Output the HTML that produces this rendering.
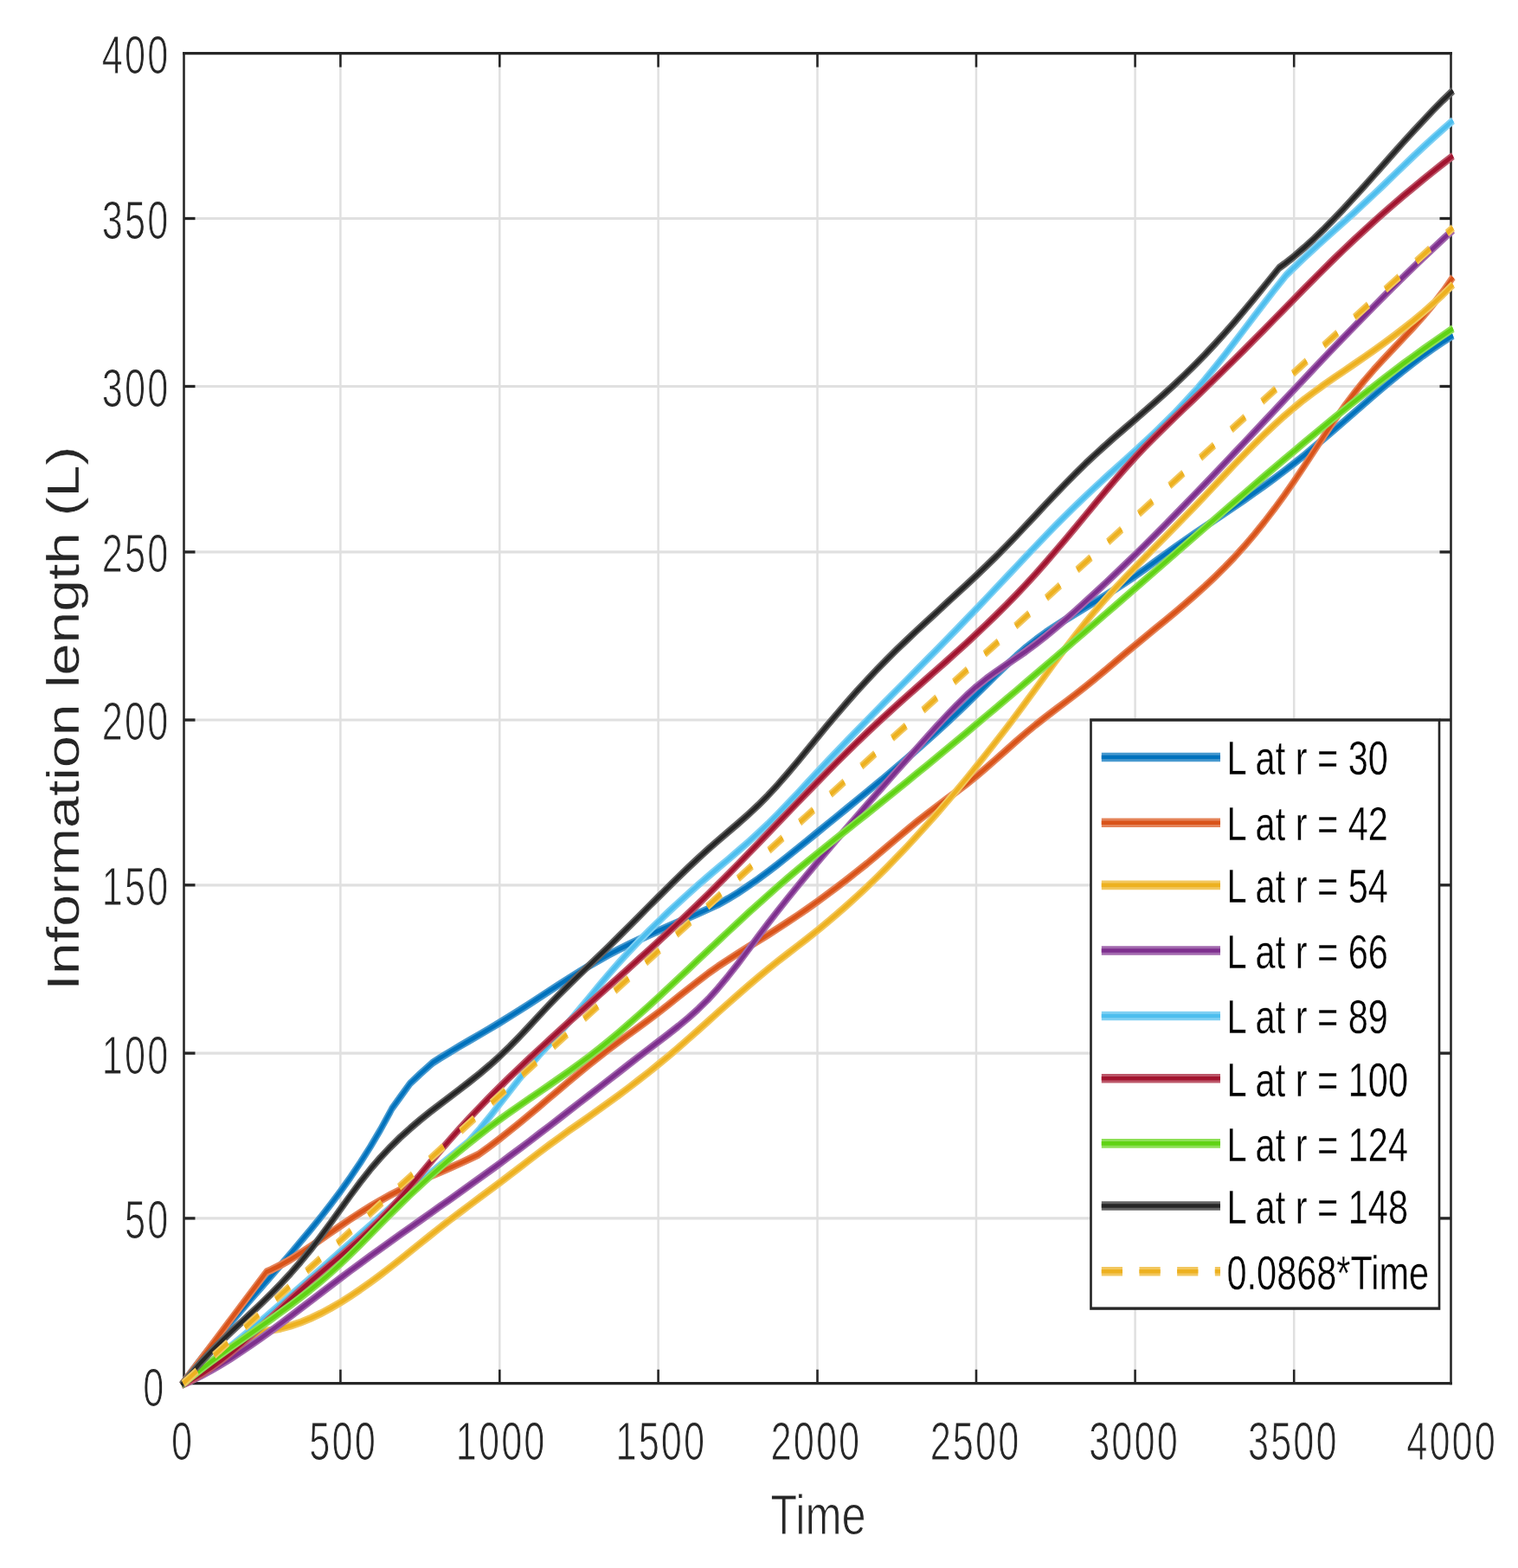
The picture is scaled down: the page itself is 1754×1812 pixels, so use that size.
<!DOCTYPE html>
<html lang="en"><head><meta charset="utf-8"><title>Information length vs Time</title>
<style>html,body{margin:0;padding:0;background:#fff}svg{display:block}text{font-family:"Liberation Sans",sans-serif}</style></head><body>
<svg width="1754" height="1812" viewBox="0 0 1754 1812">
<rect width="1754" height="1812" fill="#fff"/>
<g><g transform="scale(0.78,1)">
<g stroke="#e0e0e0" stroke-width="3.2" fill="none">
<line x1="504.36" y1="61.6" x2="504.36" y2="1598.7"/>
<line x1="740.13" y1="61.6" x2="740.13" y2="1598.7"/>
<line x1="975.13" y1="61.6" x2="975.13" y2="1598.7"/>
<line x1="1210.90" y1="61.6" x2="1210.90" y2="1598.7"/>
<line x1="1446.15" y1="61.6" x2="1446.15" y2="1598.7"/>
<line x1="1681.54" y1="61.6" x2="1681.54" y2="1598.7"/>
<line x1="1916.92" y1="61.6" x2="1916.92" y2="1598.7"/>
<line x1="272.44" y1="1407.9" x2="2149.36" y2="1407.9"/>
<line x1="272.44" y1="1217.1" x2="2149.36" y2="1217.1"/>
<line x1="272.44" y1="1022.8" x2="2149.36" y2="1022.8"/>
<line x1="272.44" y1="832.0" x2="2149.36" y2="832.0"/>
<line x1="272.44" y1="637.9" x2="2149.36" y2="637.9"/>
<line x1="272.44" y1="446.5" x2="2149.36" y2="446.5"/>
<line x1="272.44" y1="252.5" x2="2149.36" y2="252.5"/>
</g>
<g stroke="#262626" stroke-width="3.33" fill="none" stroke-linecap="square">
<line x1="272.44" y1="61.6" x2="272.44" y2="1598.7"/>
<line x1="2149.36" y1="61.6" x2="2149.36" y2="1598.7"/>
</g>
<g stroke="#262626" stroke-width="3.3" fill="none">
<line x1="270.77" y1="61.6" x2="2151.03" y2="61.6"/>
<line x1="270.77" y1="1598.7" x2="2151.03" y2="1598.7"/>
<line x1="504.36" y1="61.6" x2="504.36" y2="77.6"/>
<line x1="504.36" y1="1598.7" x2="504.36" y2="1582.7"/>
<line x1="740.13" y1="61.6" x2="740.13" y2="77.6"/>
<line x1="740.13" y1="1598.7" x2="740.13" y2="1582.7"/>
<line x1="975.13" y1="61.6" x2="975.13" y2="77.6"/>
<line x1="975.13" y1="1598.7" x2="975.13" y2="1582.7"/>
<line x1="1210.90" y1="61.6" x2="1210.90" y2="77.6"/>
<line x1="1210.90" y1="1598.7" x2="1210.90" y2="1582.7"/>
<line x1="1446.15" y1="61.6" x2="1446.15" y2="77.6"/>
<line x1="1446.15" y1="1598.7" x2="1446.15" y2="1582.7"/>
<line x1="1681.54" y1="61.6" x2="1681.54" y2="77.6"/>
<line x1="1681.54" y1="1598.7" x2="1681.54" y2="1582.7"/>
<line x1="1916.92" y1="61.6" x2="1916.92" y2="77.6"/>
<line x1="1916.92" y1="1598.7" x2="1916.92" y2="1582.7"/>
<line x1="272.44" y1="1407.9" x2="289.10" y2="1407.9"/>
<line x1="2149.36" y1="1407.9" x2="2132.69" y2="1407.9"/>
<line x1="272.44" y1="1217.1" x2="289.10" y2="1217.1"/>
<line x1="2149.36" y1="1217.1" x2="2132.69" y2="1217.1"/>
<line x1="272.44" y1="1022.8" x2="289.10" y2="1022.8"/>
<line x1="2149.36" y1="1022.8" x2="2132.69" y2="1022.8"/>
<line x1="272.44" y1="832.0" x2="289.10" y2="832.0"/>
<line x1="2149.36" y1="832.0" x2="2132.69" y2="832.0"/>
<line x1="272.44" y1="637.9" x2="289.10" y2="637.9"/>
<line x1="2149.36" y1="637.9" x2="2132.69" y2="637.9"/>
<line x1="272.44" y1="446.5" x2="289.10" y2="446.5"/>
<line x1="2149.36" y1="446.5" x2="2132.69" y2="446.5"/>
<line x1="272.44" y1="252.5" x2="289.10" y2="252.5"/>
<line x1="2149.36" y1="252.5" x2="2132.69" y2="252.5"/>
</g>
<g fill="none" stroke-linejoin="round">
<path d="M269.0,1600.5 L283.7,1585.0 L298.4,1570.1 L313.1,1555.6 L327.8,1541.6 L342.5,1527.9 L357.3,1514.4 L372.0,1501.2 L386.7,1488.0 L401.4,1474.8 L416.1,1461.6 L430.8,1448.3 L445.5,1434.7 L460.3,1420.9 L475.0,1406.7 L489.7,1392.0 L504.4,1376.7 L519.1,1360.6 L533.8,1343.5 L548.5,1325.4 L563.3,1305.9 L578.0,1285.0 L580.8,1280.8 L592.7,1268.0 L607.4,1252.1 L622.1,1241.2 L636.8,1231.0 L641.0,1228.1 L651.5,1222.8 L666.3,1215.8 L681.0,1208.9 L695.7,1202.2 L710.4,1195.6 L725.1,1188.9 L739.8,1182.0 L754.5,1174.9 L769.3,1167.7 L784.0,1160.3 L798.7,1152.8 L813.4,1145.3 L828.1,1137.9 L842.8,1130.5 L857.5,1123.4 L872.3,1116.4 L887.0,1109.7 L901.7,1103.3 L916.4,1097.3 L931.1,1091.6 L945.8,1086.1 L960.5,1080.8 L975.3,1075.7 L990.0,1070.7 L1004.7,1065.7 L1019.4,1060.7 L1034.1,1055.7 L1048.8,1050.5 L1063.5,1045.2 L1064.7,1044.8 L1078.3,1038.8 L1093.0,1031.8 L1107.7,1024.2 L1122.4,1016.2 L1137.1,1007.7 L1151.8,999.0 L1166.5,989.9 L1181.3,980.7 L1196.0,971.4 L1210.7,962.0 L1225.4,952.6 L1240.1,943.3 L1254.8,934.0 L1269.5,924.6 L1284.3,915.2 L1299.0,905.7 L1313.7,896.1 L1328.4,886.4 L1343.1,876.6 L1357.8,866.6 L1372.6,856.5 L1387.3,846.2 L1402.0,835.7 L1416.7,825.0 L1431.4,814.0 L1446.1,802.9 L1460.8,791.5 L1475.6,780.2 L1490.3,769.0 L1505.0,758.4 L1519.7,748.4 L1534.4,739.3 L1549.1,730.9 L1563.8,723.3 L1578.6,716.0 L1593.3,709.0 L1608.0,702.1 L1622.7,695.2 L1637.4,688.2 L1652.1,680.9 L1666.8,673.4 L1681.6,665.6 L1696.3,657.4 L1711.0,649.1 L1725.7,640.7 L1740.4,632.5 L1755.1,624.5 L1769.8,616.6 L1784.6,608.8 L1799.3,601.0 L1814.0,593.2 L1828.7,585.5 L1843.4,577.6 L1858.1,569.5 L1872.8,561.4 L1887.6,553.0 L1902.3,544.4 L1917.0,535.5 L1931.7,526.3 L1946.4,516.7 L1961.1,507.0 L1975.8,497.2 L1990.6,487.2 L2005.3,477.2 L2020.0,467.2 L2034.7,457.3 L2049.4,447.5 L2064.1,437.9 L2078.8,428.6 L2093.6,419.6 L2108.3,410.9 L2123.0,402.7 L2137.7,394.9 L2152.4,387.7" stroke="#4799cf" stroke-width="9.2"/>
<path d="M269.0,1600.5 L283.7,1585.0 L298.4,1570.1 L313.1,1555.6 L327.8,1541.6 L342.5,1527.9 L357.3,1514.4 L372.0,1501.2 L386.7,1488.0 L401.4,1474.8 L416.1,1461.6 L430.8,1448.3 L445.5,1434.7 L460.3,1420.9 L475.0,1406.7 L489.7,1392.0 L504.4,1376.7 L519.1,1360.6 L533.8,1343.5 L548.5,1325.4 L563.3,1305.9 L578.0,1285.0 L580.8,1280.8 L592.7,1268.0 L607.4,1252.1 L622.1,1241.2 L636.8,1231.0 L641.0,1228.1 L651.5,1222.8 L666.3,1215.8 L681.0,1208.9 L695.7,1202.2 L710.4,1195.6 L725.1,1188.9 L739.8,1182.0 L754.5,1174.9 L769.3,1167.7 L784.0,1160.3 L798.7,1152.8 L813.4,1145.3 L828.1,1137.9 L842.8,1130.5 L857.5,1123.4 L872.3,1116.4 L887.0,1109.7 L901.7,1103.3 L916.4,1097.3 L931.1,1091.6 L945.8,1086.1 L960.5,1080.8 L975.3,1075.7 L990.0,1070.7 L1004.7,1065.7 L1019.4,1060.7 L1034.1,1055.7 L1048.8,1050.5 L1063.5,1045.2 L1064.7,1044.8 L1078.3,1038.8 L1093.0,1031.8 L1107.7,1024.2 L1122.4,1016.2 L1137.1,1007.7 L1151.8,999.0 L1166.5,989.9 L1181.3,980.7 L1196.0,971.4 L1210.7,962.0 L1225.4,952.6 L1240.1,943.3 L1254.8,934.0 L1269.5,924.6 L1284.3,915.2 L1299.0,905.7 L1313.7,896.1 L1328.4,886.4 L1343.1,876.6 L1357.8,866.6 L1372.6,856.5 L1387.3,846.2 L1402.0,835.7 L1416.7,825.0 L1431.4,814.0 L1446.1,802.9 L1460.8,791.5 L1475.6,780.2 L1490.3,769.0 L1505.0,758.4 L1519.7,748.4 L1534.4,739.3 L1549.1,730.9 L1563.8,723.3 L1578.6,716.0 L1593.3,709.0 L1608.0,702.1 L1622.7,695.2 L1637.4,688.2 L1652.1,680.9 L1666.8,673.4 L1681.6,665.6 L1696.3,657.4 L1711.0,649.1 L1725.7,640.7 L1740.4,632.5 L1755.1,624.5 L1769.8,616.6 L1784.6,608.8 L1799.3,601.0 L1814.0,593.2 L1828.7,585.5 L1843.4,577.6 L1858.1,569.5 L1872.8,561.4 L1887.6,553.0 L1902.3,544.4 L1917.0,535.5 L1931.7,526.3 L1946.4,516.7 L1961.1,507.0 L1975.8,497.2 L1990.6,487.2 L2005.3,477.2 L2020.0,467.2 L2034.7,457.3 L2049.4,447.5 L2064.1,437.9 L2078.8,428.6 L2093.6,419.6 L2108.3,410.9 L2123.0,402.7 L2137.7,394.9 L2152.4,387.7" stroke="#0072bd" stroke-width="5.0"/>
</g>
<g fill="none" stroke-linejoin="round">
<path d="M269.0,1600.5 L283.7,1585.2 L298.4,1569.9 L313.1,1554.7 L327.8,1539.4 L342.5,1524.1 L357.3,1508.8 L372.0,1493.5 L386.7,1478.3 L394.7,1469.9 L401.4,1467.6 L416.1,1461.8 L430.8,1455.2 L445.5,1448.0 L460.3,1440.4 L475.0,1432.5 L489.7,1424.5 L504.4,1416.6 L519.1,1408.8 L533.8,1401.3 L548.5,1394.2 L563.3,1387.4 L578.0,1381.1 L592.7,1375.2 L607.4,1369.7 L622.1,1364.5 L636.8,1359.5 L651.5,1354.6 L666.3,1349.6 L681.0,1344.5 L695.7,1339.2 L708.3,1334.4 L710.4,1333.2 L725.1,1324.9 L739.8,1316.2 L754.5,1307.2 L769.3,1297.9 L784.0,1288.4 L798.7,1278.8 L813.4,1269.0 L828.1,1259.3 L842.8,1249.6 L857.5,1240.1 L872.3,1230.6 L887.0,1221.5 L901.7,1212.6 L916.4,1204.0 L931.1,1195.6 L945.8,1187.3 L960.5,1178.8 L975.3,1170.1 L990.0,1161.1 L1004.7,1151.9 L1019.4,1142.8 L1034.1,1133.8 L1048.8,1125.1 L1063.5,1116.9 L1078.3,1109.3 L1093.0,1101.9 L1107.7,1094.7 L1122.4,1087.7 L1137.1,1080.5 L1151.8,1073.2 L1166.5,1065.7 L1181.3,1058.0 L1196.0,1050.1 L1210.7,1041.9 L1225.4,1033.6 L1240.1,1025.0 L1254.8,1016.3 L1269.5,1007.2 L1284.3,998.0 L1299.0,988.4 L1313.7,978.7 L1328.4,969.0 L1343.1,959.3 L1357.8,949.9 L1372.6,940.8 L1387.3,932.1 L1402.0,923.6 L1416.7,915.0 L1431.4,906.3 L1446.1,897.1 L1460.8,887.4 L1475.6,877.3 L1490.3,867.1 L1505.0,856.9 L1519.7,847.0 L1534.4,837.5 L1549.1,828.5 L1563.8,819.8 L1578.6,811.1 L1593.3,802.4 L1608.0,793.4 L1622.7,784.1 L1637.4,774.6 L1652.1,764.9 L1666.8,755.2 L1681.6,745.6 L1696.3,736.1 L1711.0,726.7 L1725.7,717.3 L1740.4,707.8 L1755.1,698.1 L1769.8,688.1 L1784.6,677.8 L1799.3,667.0 L1814.0,655.7 L1828.7,643.8 L1843.4,631.1 L1858.1,617.6 L1872.8,603.4 L1887.6,588.3 L1902.3,572.6 L1917.0,556.1 L1931.7,539.0 L1946.4,521.5 L1961.1,504.0 L1975.8,486.9 L1990.6,470.5 L2005.3,455.1 L2020.0,440.9 L2034.7,427.6 L2049.4,415.1 L2064.1,402.9 L2078.8,390.8 L2093.6,378.4 L2108.3,365.6 L2123.0,351.8 L2137.7,336.8 L2152.4,320.3" stroke="#e48359" stroke-width="9.2"/>
<path d="M269.0,1600.5 L283.7,1585.2 L298.4,1569.9 L313.1,1554.7 L327.8,1539.4 L342.5,1524.1 L357.3,1508.8 L372.0,1493.5 L386.7,1478.3 L394.7,1469.9 L401.4,1467.6 L416.1,1461.8 L430.8,1455.2 L445.5,1448.0 L460.3,1440.4 L475.0,1432.5 L489.7,1424.5 L504.4,1416.6 L519.1,1408.8 L533.8,1401.3 L548.5,1394.2 L563.3,1387.4 L578.0,1381.1 L592.7,1375.2 L607.4,1369.7 L622.1,1364.5 L636.8,1359.5 L651.5,1354.6 L666.3,1349.6 L681.0,1344.5 L695.7,1339.2 L708.3,1334.4 L710.4,1333.2 L725.1,1324.9 L739.8,1316.2 L754.5,1307.2 L769.3,1297.9 L784.0,1288.4 L798.7,1278.8 L813.4,1269.0 L828.1,1259.3 L842.8,1249.6 L857.5,1240.1 L872.3,1230.6 L887.0,1221.5 L901.7,1212.6 L916.4,1204.0 L931.1,1195.6 L945.8,1187.3 L960.5,1178.8 L975.3,1170.1 L990.0,1161.1 L1004.7,1151.9 L1019.4,1142.8 L1034.1,1133.8 L1048.8,1125.1 L1063.5,1116.9 L1078.3,1109.3 L1093.0,1101.9 L1107.7,1094.7 L1122.4,1087.7 L1137.1,1080.5 L1151.8,1073.2 L1166.5,1065.7 L1181.3,1058.0 L1196.0,1050.1 L1210.7,1041.9 L1225.4,1033.6 L1240.1,1025.0 L1254.8,1016.3 L1269.5,1007.2 L1284.3,998.0 L1299.0,988.4 L1313.7,978.7 L1328.4,969.0 L1343.1,959.3 L1357.8,949.9 L1372.6,940.8 L1387.3,932.1 L1402.0,923.6 L1416.7,915.0 L1431.4,906.3 L1446.1,897.1 L1460.8,887.4 L1475.6,877.3 L1490.3,867.1 L1505.0,856.9 L1519.7,847.0 L1534.4,837.5 L1549.1,828.5 L1563.8,819.8 L1578.6,811.1 L1593.3,802.4 L1608.0,793.4 L1622.7,784.1 L1637.4,774.6 L1652.1,764.9 L1666.8,755.2 L1681.6,745.6 L1696.3,736.1 L1711.0,726.7 L1725.7,717.3 L1740.4,707.8 L1755.1,698.1 L1769.8,688.1 L1784.6,677.8 L1799.3,667.0 L1814.0,655.7 L1828.7,643.8 L1843.4,631.1 L1858.1,617.6 L1872.8,603.4 L1887.6,588.3 L1902.3,572.6 L1917.0,556.1 L1931.7,539.0 L1946.4,521.5 L1961.1,504.0 L1975.8,486.9 L1990.6,470.5 L2005.3,455.1 L2020.0,440.9 L2034.7,427.6 L2049.4,415.1 L2064.1,402.9 L2078.8,390.8 L2093.6,378.4 L2108.3,365.6 L2123.0,351.8 L2137.7,336.8 L2152.4,320.3" stroke="#d95319" stroke-width="5.0"/>
</g>
<g fill="none" stroke-linejoin="round">
<path d="M269.0,1600.5 L283.7,1592.8 L298.4,1585.0 L313.1,1577.2 L327.8,1569.5 L342.5,1561.8 L357.3,1554.0 L372.0,1546.2 L386.7,1538.5 L401.4,1537.3 L416.1,1535.1 L430.8,1532.0 L445.5,1528.1 L460.3,1523.4 L475.0,1517.9 L489.7,1511.8 L504.4,1505.1 L519.1,1497.8 L533.8,1490.1 L548.5,1481.9 L563.3,1473.4 L578.0,1464.6 L592.7,1455.6 L607.4,1446.4 L622.1,1437.2 L636.8,1428.0 L651.5,1418.8 L666.3,1409.9 L681.0,1401.2 L695.7,1392.6 L710.4,1384.1 L725.1,1375.6 L739.8,1367.0 L754.5,1358.3 L769.3,1349.5 L784.0,1340.6 L798.7,1331.9 L813.4,1323.3 L828.1,1314.9 L842.8,1306.6 L857.5,1298.6 L872.3,1290.5 L887.0,1282.3 L901.7,1274.1 L916.4,1265.7 L931.1,1257.1 L945.8,1248.3 L960.5,1239.3 L975.3,1230.0 L990.0,1220.6 L1004.7,1210.8 L1019.4,1200.8 L1034.1,1190.6 L1048.8,1180.4 L1063.5,1170.1 L1078.3,1159.8 L1093.0,1149.6 L1107.7,1139.6 L1122.4,1129.8 L1137.1,1120.4 L1151.8,1111.2 L1166.5,1102.3 L1181.3,1093.4 L1196.0,1084.5 L1210.7,1075.4 L1225.4,1065.9 L1240.1,1056.2 L1254.8,1046.1 L1269.5,1035.7 L1284.3,1025.0 L1299.0,1013.9 L1313.7,1002.5 L1328.4,990.7 L1343.1,978.7 L1357.8,966.3 L1372.6,953.6 L1387.3,940.7 L1402.0,927.4 L1416.7,913.8 L1431.4,900.0 L1446.1,885.9 L1460.8,871.4 L1475.6,856.8 L1490.3,841.9 L1505.0,826.7 L1519.7,811.3 L1534.4,795.6 L1549.1,779.9 L1563.8,764.2 L1578.6,748.7 L1593.3,733.7 L1608.0,719.3 L1622.7,705.5 L1637.4,692.4 L1652.1,679.7 L1666.8,667.5 L1681.6,655.5 L1696.3,643.8 L1711.0,632.2 L1725.7,620.6 L1740.4,608.9 L1755.1,597.2 L1769.8,585.3 L1784.6,573.2 L1799.3,561.0 L1814.0,548.9 L1828.7,536.8 L1843.4,525.0 L1858.1,513.4 L1872.8,502.1 L1887.6,491.2 L1902.3,480.8 L1917.0,471.0 L1931.7,461.7 L1946.4,453.1 L1961.1,444.8 L1975.8,436.8 L1990.6,429.0 L2005.3,421.1 L2020.0,413.3 L2034.7,405.2 L2049.4,397.0 L2064.1,388.6 L2078.8,379.8 L2093.6,370.6 L2108.3,361.0 L2123.0,350.9 L2137.7,340.2 L2152.4,328.8" stroke="#f2c75e" stroke-width="9.2"/>
<path d="M269.0,1600.5 L283.7,1592.8 L298.4,1585.0 L313.1,1577.2 L327.8,1569.5 L342.5,1561.8 L357.3,1554.0 L372.0,1546.2 L386.7,1538.5 L401.4,1537.3 L416.1,1535.1 L430.8,1532.0 L445.5,1528.1 L460.3,1523.4 L475.0,1517.9 L489.7,1511.8 L504.4,1505.1 L519.1,1497.8 L533.8,1490.1 L548.5,1481.9 L563.3,1473.4 L578.0,1464.6 L592.7,1455.6 L607.4,1446.4 L622.1,1437.2 L636.8,1428.0 L651.5,1418.8 L666.3,1409.9 L681.0,1401.2 L695.7,1392.6 L710.4,1384.1 L725.1,1375.6 L739.8,1367.0 L754.5,1358.3 L769.3,1349.5 L784.0,1340.6 L798.7,1331.9 L813.4,1323.3 L828.1,1314.9 L842.8,1306.6 L857.5,1298.6 L872.3,1290.5 L887.0,1282.3 L901.7,1274.1 L916.4,1265.7 L931.1,1257.1 L945.8,1248.3 L960.5,1239.3 L975.3,1230.0 L990.0,1220.6 L1004.7,1210.8 L1019.4,1200.8 L1034.1,1190.6 L1048.8,1180.4 L1063.5,1170.1 L1078.3,1159.8 L1093.0,1149.6 L1107.7,1139.6 L1122.4,1129.8 L1137.1,1120.4 L1151.8,1111.2 L1166.5,1102.3 L1181.3,1093.4 L1196.0,1084.5 L1210.7,1075.4 L1225.4,1065.9 L1240.1,1056.2 L1254.8,1046.1 L1269.5,1035.7 L1284.3,1025.0 L1299.0,1013.9 L1313.7,1002.5 L1328.4,990.7 L1343.1,978.7 L1357.8,966.3 L1372.6,953.6 L1387.3,940.7 L1402.0,927.4 L1416.7,913.8 L1431.4,900.0 L1446.1,885.9 L1460.8,871.4 L1475.6,856.8 L1490.3,841.9 L1505.0,826.7 L1519.7,811.3 L1534.4,795.6 L1549.1,779.9 L1563.8,764.2 L1578.6,748.7 L1593.3,733.7 L1608.0,719.3 L1622.7,705.5 L1637.4,692.4 L1652.1,679.7 L1666.8,667.5 L1681.6,655.5 L1696.3,643.8 L1711.0,632.2 L1725.7,620.6 L1740.4,608.9 L1755.1,597.2 L1769.8,585.3 L1784.6,573.2 L1799.3,561.0 L1814.0,548.9 L1828.7,536.8 L1843.4,525.0 L1858.1,513.4 L1872.8,502.1 L1887.6,491.2 L1902.3,480.8 L1917.0,471.0 L1931.7,461.7 L1946.4,453.1 L1961.1,444.8 L1975.8,436.8 L1990.6,429.0 L2005.3,421.1 L2020.0,413.3 L2034.7,405.2 L2049.4,397.0 L2064.1,388.6 L2078.8,379.8 L2093.6,370.6 L2108.3,361.0 L2123.0,350.9 L2137.7,340.2 L2152.4,328.8" stroke="#edb120" stroke-width="5.0"/>
</g>
<g fill="none" stroke-linejoin="round">
<path d="M269.0,1600.5 L283.7,1595.3 L298.4,1589.5 L313.1,1583.3 L327.8,1576.6 L342.5,1569.5 L357.3,1562.0 L372.0,1554.2 L386.7,1546.2 L401.4,1537.9 L416.1,1529.4 L430.8,1520.8 L445.5,1512.0 L460.3,1503.3 L475.0,1494.5 L489.7,1485.7 L504.4,1477.0 L519.1,1468.4 L533.8,1460.0 L548.5,1451.6 L563.3,1443.3 L578.0,1435.0 L592.7,1426.8 L607.4,1418.7 L622.1,1410.6 L636.8,1402.5 L651.5,1394.3 L666.3,1386.2 L681.0,1378.0 L695.7,1369.8 L710.4,1361.6 L725.1,1353.2 L739.8,1344.9 L754.5,1336.3 L769.3,1327.8 L784.0,1319.1 L798.7,1310.3 L813.4,1301.6 L828.1,1292.7 L842.8,1283.8 L857.5,1274.9 L872.3,1266.0 L887.0,1257.1 L901.7,1248.1 L916.4,1239.2 L931.1,1230.3 L945.8,1221.4 L960.5,1212.6 L975.3,1203.8 L990.0,1195.0 L1004.7,1186.0 L1019.4,1176.5 L1034.1,1166.2 L1048.8,1154.9 L1063.5,1142.2 L1078.3,1128.3 L1093.0,1113.7 L1107.7,1098.4 L1122.4,1083.0 L1137.1,1067.8 L1151.8,1053.0 L1166.5,1038.5 L1181.3,1024.3 L1196.0,1010.4 L1210.7,996.7 L1225.4,983.1 L1240.1,969.7 L1254.8,956.3 L1269.5,943.1 L1284.3,929.9 L1299.0,916.9 L1313.7,903.8 L1328.4,890.9 L1343.1,878.0 L1357.8,865.2 L1372.6,852.3 L1387.3,839.6 L1402.0,827.2 L1416.7,815.3 L1431.4,804.1 L1446.1,793.8 L1460.8,784.6 L1475.6,776.2 L1490.3,768.3 L1505.0,760.5 L1519.7,752.6 L1534.4,744.1 L1549.1,735.1 L1563.8,725.6 L1578.6,715.8 L1593.3,705.7 L1608.0,695.3 L1622.7,684.8 L1637.4,674.1 L1652.1,663.2 L1666.8,652.2 L1681.6,641.1 L1696.3,629.8 L1711.0,618.4 L1725.7,606.9 L1740.4,595.2 L1755.1,583.4 L1769.8,571.5 L1784.6,559.6 L1799.3,547.6 L1814.0,535.5 L1828.7,523.4 L1843.4,511.3 L1858.1,499.1 L1872.8,486.9 L1887.6,474.6 L1902.3,462.4 L1917.0,450.2 L1931.7,438.1 L1946.4,425.9 L1961.1,413.8 L1975.8,401.8 L1990.6,389.8 L2005.3,378.0 L2020.0,366.2 L2034.7,354.5 L2049.4,342.9 L2064.1,331.4 L2078.8,320.1 L2093.6,308.9 L2108.3,297.9 L2123.0,287.0 L2137.7,276.3 L2152.4,265.8" stroke="#a269ae" stroke-width="9.2"/>
<path d="M269.0,1600.5 L283.7,1595.3 L298.4,1589.5 L313.1,1583.3 L327.8,1576.6 L342.5,1569.5 L357.3,1562.0 L372.0,1554.2 L386.7,1546.2 L401.4,1537.9 L416.1,1529.4 L430.8,1520.8 L445.5,1512.0 L460.3,1503.3 L475.0,1494.5 L489.7,1485.7 L504.4,1477.0 L519.1,1468.4 L533.8,1460.0 L548.5,1451.6 L563.3,1443.3 L578.0,1435.0 L592.7,1426.8 L607.4,1418.7 L622.1,1410.6 L636.8,1402.5 L651.5,1394.3 L666.3,1386.2 L681.0,1378.0 L695.7,1369.8 L710.4,1361.6 L725.1,1353.2 L739.8,1344.9 L754.5,1336.3 L769.3,1327.8 L784.0,1319.1 L798.7,1310.3 L813.4,1301.6 L828.1,1292.7 L842.8,1283.8 L857.5,1274.9 L872.3,1266.0 L887.0,1257.1 L901.7,1248.1 L916.4,1239.2 L931.1,1230.3 L945.8,1221.4 L960.5,1212.6 L975.3,1203.8 L990.0,1195.0 L1004.7,1186.0 L1019.4,1176.5 L1034.1,1166.2 L1048.8,1154.9 L1063.5,1142.2 L1078.3,1128.3 L1093.0,1113.7 L1107.7,1098.4 L1122.4,1083.0 L1137.1,1067.8 L1151.8,1053.0 L1166.5,1038.5 L1181.3,1024.3 L1196.0,1010.4 L1210.7,996.7 L1225.4,983.1 L1240.1,969.7 L1254.8,956.3 L1269.5,943.1 L1284.3,929.9 L1299.0,916.9 L1313.7,903.8 L1328.4,890.9 L1343.1,878.0 L1357.8,865.2 L1372.6,852.3 L1387.3,839.6 L1402.0,827.2 L1416.7,815.3 L1431.4,804.1 L1446.1,793.8 L1460.8,784.6 L1475.6,776.2 L1490.3,768.3 L1505.0,760.5 L1519.7,752.6 L1534.4,744.1 L1549.1,735.1 L1563.8,725.6 L1578.6,715.8 L1593.3,705.7 L1608.0,695.3 L1622.7,684.8 L1637.4,674.1 L1652.1,663.2 L1666.8,652.2 L1681.6,641.1 L1696.3,629.8 L1711.0,618.4 L1725.7,606.9 L1740.4,595.2 L1755.1,583.4 L1769.8,571.5 L1784.6,559.6 L1799.3,547.6 L1814.0,535.5 L1828.7,523.4 L1843.4,511.3 L1858.1,499.1 L1872.8,486.9 L1887.6,474.6 L1902.3,462.4 L1917.0,450.2 L1931.7,438.1 L1946.4,425.9 L1961.1,413.8 L1975.8,401.8 L1990.6,389.8 L2005.3,378.0 L2020.0,366.2 L2034.7,354.5 L2049.4,342.9 L2064.1,331.4 L2078.8,320.1 L2093.6,308.9 L2108.3,297.9 L2123.0,287.0 L2137.7,276.3 L2152.4,265.8" stroke="#7e2f8e" stroke-width="5.0"/>
</g>
<g fill="none" stroke-linejoin="round">
<path d="M269.0,1600.5 L283.7,1591.8 L298.4,1582.9 L313.1,1573.8 L327.8,1564.6 L342.5,1555.3 L357.3,1545.8 L372.0,1536.2 L386.7,1526.5 L401.4,1516.7 L416.1,1506.8 L430.8,1496.9 L445.5,1486.8 L460.3,1476.8 L475.0,1466.7 L489.7,1456.5 L504.4,1446.4 L519.1,1436.2 L533.8,1426.1 L548.5,1416.0 L563.3,1405.9 L578.0,1395.9 L592.7,1385.9 L607.4,1376.0 L622.1,1366.2 L636.8,1356.4 L651.5,1346.8 L666.3,1337.3 L681.0,1327.9 L692.7,1320.5 L695.7,1318.0 L710.4,1304.9 L725.1,1290.9 L739.8,1276.3 L754.5,1261.5 L769.3,1246.8 L784.0,1232.6 L798.7,1219.3 L813.4,1206.9 L828.1,1194.3 L842.8,1181.0 L857.5,1167.2 L872.3,1153.3 L887.0,1139.4 L901.7,1125.9 L916.4,1112.8 L931.1,1100.2 L945.8,1088.1 L960.5,1076.4 L975.3,1065.1 L990.0,1054.0 L1004.7,1043.4 L1019.4,1033.0 L1034.1,1022.8 L1048.8,1012.9 L1063.5,1003.1 L1078.3,993.5 L1093.0,983.7 L1107.7,973.7 L1122.4,963.3 L1137.1,952.5 L1151.8,941.0 L1166.5,929.1 L1181.3,917.0 L1196.0,904.6 L1210.7,892.3 L1225.4,880.1 L1240.1,868.1 L1254.8,856.1 L1269.5,844.3 L1284.3,832.5 L1299.0,820.8 L1313.7,809.1 L1328.4,797.5 L1343.1,786.0 L1357.8,774.4 L1372.6,762.7 L1387.3,751.1 L1402.0,739.4 L1416.7,727.6 L1431.4,715.7 L1446.1,703.8 L1460.8,691.7 L1475.6,679.5 L1490.3,667.4 L1505.0,655.2 L1519.7,643.0 L1534.4,631.0 L1549.1,619.0 L1563.8,607.2 L1578.6,595.7 L1593.3,584.4 L1608.0,573.4 L1622.7,562.6 L1637.4,552.1 L1652.1,541.7 L1666.8,531.4 L1681.6,521.0 L1696.3,510.4 L1711.0,499.6 L1725.7,488.5 L1740.4,477.0 L1755.1,464.9 L1769.8,452.3 L1784.6,438.9 L1799.3,424.9 L1814.0,410.4 L1828.7,395.5 L1843.4,380.4 L1858.1,365.3 L1872.8,350.2 L1887.6,335.3 L1902.3,320.9 L1905.2,318.0 L1917.0,309.0 L1931.7,298.1 L1946.4,287.5 L1961.1,277.1 L1975.8,266.8 L1990.6,256.5 L2005.3,246.2 L2020.0,235.6 L2034.7,224.9 L2049.4,214.0 L2064.1,202.9 L2078.8,191.8 L2093.6,180.8 L2108.3,170.0 L2123.0,159.4 L2137.7,149.2 L2152.4,139.3" stroke="#7fd0f3" stroke-width="9.2"/>
<path d="M269.0,1600.5 L283.7,1591.8 L298.4,1582.9 L313.1,1573.8 L327.8,1564.6 L342.5,1555.3 L357.3,1545.8 L372.0,1536.2 L386.7,1526.5 L401.4,1516.7 L416.1,1506.8 L430.8,1496.9 L445.5,1486.8 L460.3,1476.8 L475.0,1466.7 L489.7,1456.5 L504.4,1446.4 L519.1,1436.2 L533.8,1426.1 L548.5,1416.0 L563.3,1405.9 L578.0,1395.9 L592.7,1385.9 L607.4,1376.0 L622.1,1366.2 L636.8,1356.4 L651.5,1346.8 L666.3,1337.3 L681.0,1327.9 L692.7,1320.5 L695.7,1318.0 L710.4,1304.9 L725.1,1290.9 L739.8,1276.3 L754.5,1261.5 L769.3,1246.8 L784.0,1232.6 L798.7,1219.3 L813.4,1206.9 L828.1,1194.3 L842.8,1181.0 L857.5,1167.2 L872.3,1153.3 L887.0,1139.4 L901.7,1125.9 L916.4,1112.8 L931.1,1100.2 L945.8,1088.1 L960.5,1076.4 L975.3,1065.1 L990.0,1054.0 L1004.7,1043.4 L1019.4,1033.0 L1034.1,1022.8 L1048.8,1012.9 L1063.5,1003.1 L1078.3,993.5 L1093.0,983.7 L1107.7,973.7 L1122.4,963.3 L1137.1,952.5 L1151.8,941.0 L1166.5,929.1 L1181.3,917.0 L1196.0,904.6 L1210.7,892.3 L1225.4,880.1 L1240.1,868.1 L1254.8,856.1 L1269.5,844.3 L1284.3,832.5 L1299.0,820.8 L1313.7,809.1 L1328.4,797.5 L1343.1,786.0 L1357.8,774.4 L1372.6,762.7 L1387.3,751.1 L1402.0,739.4 L1416.7,727.6 L1431.4,715.7 L1446.1,703.8 L1460.8,691.7 L1475.6,679.5 L1490.3,667.4 L1505.0,655.2 L1519.7,643.0 L1534.4,631.0 L1549.1,619.0 L1563.8,607.2 L1578.6,595.7 L1593.3,584.4 L1608.0,573.4 L1622.7,562.6 L1637.4,552.1 L1652.1,541.7 L1666.8,531.4 L1681.6,521.0 L1696.3,510.4 L1711.0,499.6 L1725.7,488.5 L1740.4,477.0 L1755.1,464.9 L1769.8,452.3 L1784.6,438.9 L1799.3,424.9 L1814.0,410.4 L1828.7,395.5 L1843.4,380.4 L1858.1,365.3 L1872.8,350.2 L1887.6,335.3 L1902.3,320.9 L1905.2,318.0 L1917.0,309.0 L1931.7,298.1 L1946.4,287.5 L1961.1,277.1 L1975.8,266.8 L1990.6,256.5 L2005.3,246.2 L2020.0,235.6 L2034.7,224.9 L2049.4,214.0 L2064.1,202.9 L2078.8,191.8 L2093.6,180.8 L2108.3,170.0 L2123.0,159.4 L2137.7,149.2 L2152.4,139.3" stroke="#4dbeee" stroke-width="5.0"/>
</g>
<g fill="none" stroke-linejoin="round">
<path d="M269.0,1600.5 L283.7,1594.8 L298.4,1588.1 L313.1,1580.5 L327.8,1572.1 L342.5,1563.0 L357.3,1553.4 L372.0,1543.3 L386.7,1532.9 L401.4,1522.4 L416.1,1511.7 L430.8,1501.1 L445.5,1490.7 L460.3,1480.6 L475.0,1470.8 L489.7,1461.2 L504.4,1451.5 L519.1,1441.6 L533.8,1431.4 L548.5,1420.6 L563.3,1409.3 L578.0,1397.2 L592.7,1384.4 L607.4,1371.1 L622.1,1357.6 L636.8,1343.9 L651.5,1330.4 L666.3,1317.1 L681.0,1304.3 L695.7,1291.8 L710.4,1279.7 L725.1,1267.9 L739.8,1256.5 L754.5,1245.2 L769.3,1234.2 L784.0,1223.3 L798.7,1212.6 L813.4,1202.0 L828.1,1191.5 L842.8,1181.1 L857.5,1170.7 L872.3,1160.4 L887.0,1150.1 L901.7,1139.8 L916.4,1129.5 L931.1,1119.2 L945.8,1108.8 L960.5,1098.4 L975.3,1087.9 L990.0,1077.3 L1004.7,1066.6 L1019.4,1055.7 L1034.1,1044.7 L1048.8,1033.6 L1063.5,1022.2 L1078.3,1010.7 L1093.0,999.0 L1107.7,987.2 L1122.4,975.4 L1137.1,963.4 L1151.8,951.4 L1166.5,939.5 L1181.3,927.5 L1196.0,915.6 L1210.7,903.8 L1225.4,892.1 L1240.1,880.5 L1254.8,869.1 L1269.5,857.8 L1284.3,846.8 L1299.0,836.0 L1313.7,825.4 L1328.4,815.0 L1343.1,804.7 L1357.8,794.6 L1372.6,784.4 L1387.3,774.3 L1402.0,764.1 L1416.7,753.8 L1431.4,743.4 L1446.1,732.8 L1460.8,721.9 L1475.6,710.8 L1490.3,699.4 L1505.0,687.7 L1519.7,675.5 L1534.4,662.9 L1549.1,650.0 L1563.8,636.6 L1578.6,623.1 L1593.3,609.3 L1608.0,595.5 L1622.7,581.6 L1637.4,567.9 L1652.1,554.3 L1666.8,541.2 L1681.6,528.4 L1696.3,516.3 L1711.0,504.6 L1725.7,493.3 L1740.4,482.2 L1755.1,471.1 L1769.8,460.2 L1784.6,449.1 L1799.3,437.9 L1814.0,426.7 L1828.7,415.4 L1843.4,404.0 L1858.1,392.4 L1872.8,380.8 L1887.6,369.0 L1902.3,357.3 L1917.0,345.6 L1931.7,333.9 L1946.4,322.3 L1961.1,310.9 L1975.8,299.5 L1990.6,288.4 L2005.3,277.5 L2020.0,266.9 L2034.7,256.4 L2049.4,246.2 L2064.1,236.2 L2078.8,226.4 L2093.6,216.8 L2108.3,207.4 L2123.0,198.1 L2137.7,189.0 L2152.4,180.1" stroke="#bc5669" stroke-width="9.2"/>
<path d="M269.0,1600.5 L283.7,1594.8 L298.4,1588.1 L313.1,1580.5 L327.8,1572.1 L342.5,1563.0 L357.3,1553.4 L372.0,1543.3 L386.7,1532.9 L401.4,1522.4 L416.1,1511.7 L430.8,1501.1 L445.5,1490.7 L460.3,1480.6 L475.0,1470.8 L489.7,1461.2 L504.4,1451.5 L519.1,1441.6 L533.8,1431.4 L548.5,1420.6 L563.3,1409.3 L578.0,1397.2 L592.7,1384.4 L607.4,1371.1 L622.1,1357.6 L636.8,1343.9 L651.5,1330.4 L666.3,1317.1 L681.0,1304.3 L695.7,1291.8 L710.4,1279.7 L725.1,1267.9 L739.8,1256.5 L754.5,1245.2 L769.3,1234.2 L784.0,1223.3 L798.7,1212.6 L813.4,1202.0 L828.1,1191.5 L842.8,1181.1 L857.5,1170.7 L872.3,1160.4 L887.0,1150.1 L901.7,1139.8 L916.4,1129.5 L931.1,1119.2 L945.8,1108.8 L960.5,1098.4 L975.3,1087.9 L990.0,1077.3 L1004.7,1066.6 L1019.4,1055.7 L1034.1,1044.7 L1048.8,1033.6 L1063.5,1022.2 L1078.3,1010.7 L1093.0,999.0 L1107.7,987.2 L1122.4,975.4 L1137.1,963.4 L1151.8,951.4 L1166.5,939.5 L1181.3,927.5 L1196.0,915.6 L1210.7,903.8 L1225.4,892.1 L1240.1,880.5 L1254.8,869.1 L1269.5,857.8 L1284.3,846.8 L1299.0,836.0 L1313.7,825.4 L1328.4,815.0 L1343.1,804.7 L1357.8,794.6 L1372.6,784.4 L1387.3,774.3 L1402.0,764.1 L1416.7,753.8 L1431.4,743.4 L1446.1,732.8 L1460.8,721.9 L1475.6,710.8 L1490.3,699.4 L1505.0,687.7 L1519.7,675.5 L1534.4,662.9 L1549.1,650.0 L1563.8,636.6 L1578.6,623.1 L1593.3,609.3 L1608.0,595.5 L1622.7,581.6 L1637.4,567.9 L1652.1,554.3 L1666.8,541.2 L1681.6,528.4 L1696.3,516.3 L1711.0,504.6 L1725.7,493.3 L1740.4,482.2 L1755.1,471.1 L1769.8,460.2 L1784.6,449.1 L1799.3,437.9 L1814.0,426.7 L1828.7,415.4 L1843.4,404.0 L1858.1,392.4 L1872.8,380.8 L1887.6,369.0 L1902.3,357.3 L1917.0,345.6 L1931.7,333.9 L1946.4,322.3 L1961.1,310.9 L1975.8,299.5 L1990.6,288.4 L2005.3,277.5 L2020.0,266.9 L2034.7,256.4 L2049.4,246.2 L2064.1,236.2 L2078.8,226.4 L2093.6,216.8 L2108.3,207.4 L2123.0,198.1 L2137.7,189.0 L2152.4,180.1" stroke="#a2142f" stroke-width="5.0"/>
</g>
<g fill="none" stroke-linejoin="round">
<path d="M269.0,1600.5 L283.7,1591.1 L298.4,1582.1 L313.1,1573.4 L327.8,1565.0 L342.5,1556.7 L357.3,1548.7 L372.0,1540.7 L386.7,1532.6 L401.4,1524.6 L416.1,1516.3 L430.8,1507.9 L445.5,1499.2 L460.3,1490.2 L475.0,1480.8 L489.7,1471.0 L504.4,1460.6 L519.1,1449.6 L533.8,1438.3 L548.5,1426.7 L563.3,1414.9 L578.0,1403.4 L592.7,1392.0 L607.4,1380.9 L622.1,1370.2 L636.8,1359.7 L651.5,1349.5 L666.3,1339.5 L681.0,1329.9 L695.7,1320.5 L710.4,1311.5 L725.1,1302.6 L739.8,1294.1 L754.5,1285.8 L769.3,1277.8 L784.0,1269.8 L798.7,1262.0 L813.4,1254.1 L828.1,1246.1 L842.8,1238.1 L857.5,1229.7 L872.3,1221.2 L887.0,1212.3 L901.7,1203.0 L916.4,1193.3 L931.1,1183.4 L945.8,1173.3 L960.5,1162.9 L975.3,1152.4 L990.0,1141.7 L1004.7,1131.0 L1019.4,1120.2 L1034.1,1109.3 L1048.8,1098.5 L1063.5,1087.7 L1078.3,1076.9 L1093.0,1066.2 L1107.7,1055.6 L1122.4,1045.2 L1137.1,1034.9 L1151.8,1024.8 L1166.5,1014.9 L1181.3,1005.2 L1196.0,995.7 L1210.7,986.3 L1225.4,977.1 L1240.1,967.9 L1254.8,958.8 L1269.5,949.7 L1284.3,940.5 L1299.0,931.3 L1313.7,922.1 L1328.4,912.9 L1343.1,903.6 L1357.8,894.2 L1372.6,884.8 L1387.3,875.3 L1402.0,865.9 L1416.7,856.4 L1431.4,846.8 L1446.1,837.2 L1460.8,827.5 L1475.6,817.9 L1490.3,808.2 L1505.0,798.5 L1519.7,788.7 L1534.4,778.9 L1549.1,769.1 L1563.8,759.3 L1578.6,749.4 L1593.3,739.5 L1608.0,729.6 L1622.7,719.7 L1637.4,709.8 L1652.1,699.9 L1666.8,689.9 L1681.6,679.9 L1696.3,669.9 L1711.0,660.0 L1725.7,650.0 L1740.4,640.0 L1755.1,630.0 L1769.8,620.0 L1784.6,610.0 L1799.3,600.0 L1814.0,590.0 L1828.7,580.1 L1843.4,570.2 L1858.1,560.3 L1872.8,550.4 L1887.6,540.7 L1902.3,530.9 L1917.0,521.3 L1931.7,511.6 L1946.4,502.1 L1961.1,492.6 L1975.8,483.2 L1990.6,473.9 L2005.3,464.7 L2020.0,455.6 L2034.7,446.6 L2049.4,437.7 L2064.1,429.0 L2078.8,420.3 L2093.6,411.9 L2108.3,403.6 L2123.0,395.4 L2137.7,387.5 L2152.4,379.6" stroke="#8ddf56" stroke-width="9.2"/>
<path d="M269.0,1600.5 L283.7,1591.1 L298.4,1582.1 L313.1,1573.4 L327.8,1565.0 L342.5,1556.7 L357.3,1548.7 L372.0,1540.7 L386.7,1532.6 L401.4,1524.6 L416.1,1516.3 L430.8,1507.9 L445.5,1499.2 L460.3,1490.2 L475.0,1480.8 L489.7,1471.0 L504.4,1460.6 L519.1,1449.6 L533.8,1438.3 L548.5,1426.7 L563.3,1414.9 L578.0,1403.4 L592.7,1392.0 L607.4,1380.9 L622.1,1370.2 L636.8,1359.7 L651.5,1349.5 L666.3,1339.5 L681.0,1329.9 L695.7,1320.5 L710.4,1311.5 L725.1,1302.6 L739.8,1294.1 L754.5,1285.8 L769.3,1277.8 L784.0,1269.8 L798.7,1262.0 L813.4,1254.1 L828.1,1246.1 L842.8,1238.1 L857.5,1229.7 L872.3,1221.2 L887.0,1212.3 L901.7,1203.0 L916.4,1193.3 L931.1,1183.4 L945.8,1173.3 L960.5,1162.9 L975.3,1152.4 L990.0,1141.7 L1004.7,1131.0 L1019.4,1120.2 L1034.1,1109.3 L1048.8,1098.5 L1063.5,1087.7 L1078.3,1076.9 L1093.0,1066.2 L1107.7,1055.6 L1122.4,1045.2 L1137.1,1034.9 L1151.8,1024.8 L1166.5,1014.9 L1181.3,1005.2 L1196.0,995.7 L1210.7,986.3 L1225.4,977.1 L1240.1,967.9 L1254.8,958.8 L1269.5,949.7 L1284.3,940.5 L1299.0,931.3 L1313.7,922.1 L1328.4,912.9 L1343.1,903.6 L1357.8,894.2 L1372.6,884.8 L1387.3,875.3 L1402.0,865.9 L1416.7,856.4 L1431.4,846.8 L1446.1,837.2 L1460.8,827.5 L1475.6,817.9 L1490.3,808.2 L1505.0,798.5 L1519.7,788.7 L1534.4,778.9 L1549.1,769.1 L1563.8,759.3 L1578.6,749.4 L1593.3,739.5 L1608.0,729.6 L1622.7,719.7 L1637.4,709.8 L1652.1,699.9 L1666.8,689.9 L1681.6,679.9 L1696.3,669.9 L1711.0,660.0 L1725.7,650.0 L1740.4,640.0 L1755.1,630.0 L1769.8,620.0 L1784.6,610.0 L1799.3,600.0 L1814.0,590.0 L1828.7,580.1 L1843.4,570.2 L1858.1,560.3 L1872.8,550.4 L1887.6,540.7 L1902.3,530.9 L1917.0,521.3 L1931.7,511.6 L1946.4,502.1 L1961.1,492.6 L1975.8,483.2 L1990.6,473.9 L2005.3,464.7 L2020.0,455.6 L2034.7,446.6 L2049.4,437.7 L2064.1,429.0 L2078.8,420.3 L2093.6,411.9 L2108.3,403.6 L2123.0,395.4 L2137.7,387.5 L2152.4,379.6" stroke="#60d314" stroke-width="5.0"/>
</g>
<g fill="none" stroke-linejoin="round">
<path d="M269.0,1600.5 L283.7,1586.6 L298.4,1573.7 L313.1,1561.6 L327.8,1550.1 L342.5,1539.0 L357.3,1528.2 L372.0,1517.5 L386.7,1506.6 L401.4,1495.3 L416.1,1483.6 L430.8,1471.2 L445.5,1458.0 L460.3,1443.9 L475.0,1429.0 L489.7,1413.3 L504.4,1397.4 L519.1,1381.5 L533.8,1366.0 L548.5,1351.4 L563.3,1338.0 L578.0,1325.8 L592.7,1314.5 L607.4,1304.2 L622.1,1294.4 L636.8,1285.2 L651.5,1276.4 L666.3,1267.6 L681.0,1258.9 L695.7,1250.0 L710.4,1240.9 L725.1,1231.2 L739.8,1220.9 L754.5,1209.9 L769.3,1198.1 L784.0,1185.9 L798.7,1173.5 L813.4,1161.3 L828.1,1149.5 L842.8,1138.1 L857.5,1126.9 L872.3,1115.9 L887.0,1105.0 L901.7,1093.9 L916.4,1082.5 L931.1,1071.1 L945.8,1059.6 L960.5,1048.0 L975.3,1036.5 L990.0,1025.1 L1004.7,1013.8 L1019.4,1002.8 L1034.1,992.0 L1048.8,981.6 L1063.5,971.5 L1078.3,961.7 L1093.0,951.9 L1107.7,941.7 L1122.4,931.1 L1137.1,919.6 L1151.8,907.2 L1166.5,894.0 L1181.3,880.3 L1196.0,866.3 L1210.7,852.3 L1225.4,838.4 L1240.1,824.8 L1254.8,811.5 L1269.5,798.5 L1284.3,786.0 L1299.0,773.8 L1313.7,762.1 L1328.4,750.7 L1343.1,739.7 L1357.8,728.9 L1372.6,718.2 L1387.3,707.7 L1402.0,697.1 L1416.7,686.6 L1431.4,676.0 L1446.1,665.2 L1460.8,654.2 L1475.6,643.0 L1490.3,631.4 L1505.0,619.5 L1519.7,607.3 L1534.4,595.1 L1549.1,582.8 L1563.8,570.7 L1578.6,558.7 L1593.3,547.1 L1608.0,535.8 L1622.7,525.1 L1637.4,514.7 L1652.1,504.5 L1666.8,494.6 L1681.6,484.7 L1696.3,474.8 L1711.0,464.8 L1725.7,454.5 L1740.4,444.0 L1755.1,433.1 L1769.8,421.8 L1784.6,410.1 L1799.3,397.9 L1814.0,385.3 L1828.7,372.2 L1843.4,358.7 L1858.1,344.8 L1872.8,330.7 L1887.6,316.5 L1894.9,309.5 L1902.3,305.3 L1917.0,296.3 L1931.7,286.4 L1946.4,275.9 L1961.1,264.8 L1975.8,253.1 L1990.6,241.1 L2005.3,228.6 L2020.0,216.0 L2034.7,203.1 L2049.4,190.2 L2064.1,177.3 L2078.8,164.4 L2093.6,151.8 L2108.3,139.4 L2123.0,127.3 L2137.7,115.7 L2152.4,104.7" stroke="#636363" stroke-width="9.2"/>
<path d="M269.0,1600.5 L283.7,1586.6 L298.4,1573.7 L313.1,1561.6 L327.8,1550.1 L342.5,1539.0 L357.3,1528.2 L372.0,1517.5 L386.7,1506.6 L401.4,1495.3 L416.1,1483.6 L430.8,1471.2 L445.5,1458.0 L460.3,1443.9 L475.0,1429.0 L489.7,1413.3 L504.4,1397.4 L519.1,1381.5 L533.8,1366.0 L548.5,1351.4 L563.3,1338.0 L578.0,1325.8 L592.7,1314.5 L607.4,1304.2 L622.1,1294.4 L636.8,1285.2 L651.5,1276.4 L666.3,1267.6 L681.0,1258.9 L695.7,1250.0 L710.4,1240.9 L725.1,1231.2 L739.8,1220.9 L754.5,1209.9 L769.3,1198.1 L784.0,1185.9 L798.7,1173.5 L813.4,1161.3 L828.1,1149.5 L842.8,1138.1 L857.5,1126.9 L872.3,1115.9 L887.0,1105.0 L901.7,1093.9 L916.4,1082.5 L931.1,1071.1 L945.8,1059.6 L960.5,1048.0 L975.3,1036.5 L990.0,1025.1 L1004.7,1013.8 L1019.4,1002.8 L1034.1,992.0 L1048.8,981.6 L1063.5,971.5 L1078.3,961.7 L1093.0,951.9 L1107.7,941.7 L1122.4,931.1 L1137.1,919.6 L1151.8,907.2 L1166.5,894.0 L1181.3,880.3 L1196.0,866.3 L1210.7,852.3 L1225.4,838.4 L1240.1,824.8 L1254.8,811.5 L1269.5,798.5 L1284.3,786.0 L1299.0,773.8 L1313.7,762.1 L1328.4,750.7 L1343.1,739.7 L1357.8,728.9 L1372.6,718.2 L1387.3,707.7 L1402.0,697.1 L1416.7,686.6 L1431.4,676.0 L1446.1,665.2 L1460.8,654.2 L1475.6,643.0 L1490.3,631.4 L1505.0,619.5 L1519.7,607.3 L1534.4,595.1 L1549.1,582.8 L1563.8,570.7 L1578.6,558.7 L1593.3,547.1 L1608.0,535.8 L1622.7,525.1 L1637.4,514.7 L1652.1,504.5 L1666.8,494.6 L1681.6,484.7 L1696.3,474.8 L1711.0,464.8 L1725.7,454.5 L1740.4,444.0 L1755.1,433.1 L1769.8,421.8 L1784.6,410.1 L1799.3,397.9 L1814.0,385.3 L1828.7,372.2 L1843.4,358.7 L1858.1,344.8 L1872.8,330.7 L1887.6,316.5 L1894.9,309.5 L1902.3,305.3 L1917.0,296.3 L1931.7,286.4 L1946.4,275.9 L1961.1,264.8 L1975.8,253.1 L1990.6,241.1 L2005.3,228.6 L2020.0,216.0 L2034.7,203.1 L2049.4,190.2 L2064.1,177.3 L2078.8,164.4 L2093.6,151.8 L2108.3,139.4 L2123.0,127.3 L2137.7,115.7 L2152.4,104.7" stroke="#262626" stroke-width="5.0"/>
</g>
<g fill="none" stroke-linejoin="round" stroke-dasharray="25 31" stroke-dashoffset="-3">
<path d="M269.0,1600.5 L2152.4,263.3" stroke="#f2c75e" stroke-width="9.2"/>
<path d="M269.0,1600.5 L2152.4,263.3" stroke="#edb120" stroke-width="5.0"/>
</g>
<text transform="translate(270.51,1687.3) scale(0.8740,1)" fill="#262626" font-size="63.5" text-anchor="middle" letter-spacing="3.07" stroke="#fff" stroke-width="1.1">0</text>
<text transform="translate(508.46,1687.3) scale(0.8740,1)" fill="#262626" font-size="63.5" text-anchor="middle" letter-spacing="3.07" stroke="#fff" stroke-width="1.1">500</text>
<text transform="translate(742.56,1687.3) scale(0.8740,1)" fill="#262626" font-size="63.5" text-anchor="middle" letter-spacing="3.07" stroke="#fff" stroke-width="1.1">1000</text>
<text transform="translate(979.23,1687.3) scale(0.8740,1)" fill="#262626" font-size="63.5" text-anchor="middle" letter-spacing="3.07" stroke="#fff" stroke-width="1.1">1500</text>
<text transform="translate(1208.85,1687.3) scale(0.8740,1)" fill="#262626" font-size="63.5" text-anchor="middle" letter-spacing="3.07" stroke="#fff" stroke-width="1.1">2000</text>
<text transform="translate(1444.87,1687.3) scale(0.8740,1)" fill="#262626" font-size="63.5" text-anchor="middle" letter-spacing="3.07" stroke="#fff" stroke-width="1.1">2500</text>
<text transform="translate(1680.13,1687.3) scale(0.8740,1)" fill="#262626" font-size="63.5" text-anchor="middle" letter-spacing="3.07" stroke="#fff" stroke-width="1.1">3000</text>
<text transform="translate(1915.77,1687.3) scale(0.8740,1)" fill="#262626" font-size="63.5" text-anchor="middle" letter-spacing="3.07" stroke="#fff" stroke-width="1.1">3500</text>
<text transform="translate(2150.77,1687.3) scale(0.8740,1)" fill="#262626" font-size="63.5" text-anchor="middle" letter-spacing="3.07" stroke="#fff" stroke-width="1.1">4000</text>
<text transform="translate(245.51,1625.3) scale(0.8740,1)" fill="#262626" font-size="63.5" text-anchor="end" letter-spacing="3.07" stroke="#fff" stroke-width="1.1">0</text>
<text transform="translate(251.67,1431.3) scale(0.8740,1)" fill="#262626" font-size="63.5" text-anchor="end" letter-spacing="3.07" stroke="#fff" stroke-width="1.1">50</text>
<text transform="translate(251.67,1240.5) scale(0.8740,1)" fill="#262626" font-size="63.5" text-anchor="end" letter-spacing="3.07" stroke="#fff" stroke-width="1.1">100</text>
<text transform="translate(251.67,1046.2) scale(0.8740,1)" fill="#262626" font-size="63.5" text-anchor="end" letter-spacing="3.07" stroke="#fff" stroke-width="1.1">150</text>
<text transform="translate(251.67,855.4) scale(0.8740,1)" fill="#262626" font-size="63.5" text-anchor="end" letter-spacing="3.07" stroke="#fff" stroke-width="1.1">200</text>
<text transform="translate(251.67,661.3) scale(0.8740,1)" fill="#262626" font-size="63.5" text-anchor="end" letter-spacing="3.07" stroke="#fff" stroke-width="1.1">250</text>
<text transform="translate(251.67,469.9) scale(0.8740,1)" fill="#262626" font-size="63.5" text-anchor="end" letter-spacing="3.07" stroke="#fff" stroke-width="1.1">300</text>
<text transform="translate(251.67,275.9) scale(0.8740,1)" fill="#262626" font-size="63.5" text-anchor="end" letter-spacing="3.07" stroke="#fff" stroke-width="1.1">350</text>
<text transform="translate(251.67,85.0) scale(0.8740,1)" fill="#262626" font-size="63.5" text-anchor="end" letter-spacing="3.07" stroke="#fff" stroke-width="1.1">400</text>
<text transform="translate(1212.05,1773.0) scale(0.9975,1)" fill="#262626" font-size="65" text-anchor="middle" stroke="#fff" stroke-width="1.1">Time</text>
<text transform="translate(117.05,830.0) rotate(-90) scale(1.0180,1.04)" fill="#262626" font-size="65" text-anchor="middle" stroke="#fff" stroke-width="0.3">Information length (L)</text>
<rect x="1616.03" y="832.0" width="516.03" height="680.0999999999999" fill="#fff" stroke="#262626" stroke-width="3.4"/>
<g fill="none">
<line x1="1631.79" y1="875" x2="1807.69" y2="875" stroke="#4799cf" stroke-width="10.6"/>
<line x1="1631.79" y1="875" x2="1807.69" y2="875" stroke="#0072bd" stroke-width="4.6"/>
</g>
<text transform="translate(1817.31,895.3) scale(0.9500,1)" fill="#000" font-size="56" text-anchor="start" stroke="#fff" stroke-width="0.4">L at r = 30</text>
<g fill="none">
<line x1="1631.79" y1="950.8" x2="1807.69" y2="950.8" stroke="#e48359" stroke-width="10.6"/>
<line x1="1631.79" y1="950.8" x2="1807.69" y2="950.8" stroke="#d95319" stroke-width="4.6"/>
</g>
<text transform="translate(1817.31,971.1) scale(0.9500,1)" fill="#000" font-size="56" text-anchor="start" stroke="#fff" stroke-width="0.4">L at r = 42</text>
<g fill="none">
<line x1="1631.79" y1="1022.9" x2="1807.69" y2="1022.9" stroke="#f2c75e" stroke-width="10.6"/>
<line x1="1631.79" y1="1022.9" x2="1807.69" y2="1022.9" stroke="#edb120" stroke-width="4.6"/>
</g>
<text transform="translate(1817.31,1043.2) scale(0.9500,1)" fill="#000" font-size="56" text-anchor="start" stroke="#fff" stroke-width="0.4">L at r = 54</text>
<g fill="none">
<line x1="1631.79" y1="1098.5" x2="1807.69" y2="1098.5" stroke="#a269ae" stroke-width="10.6"/>
<line x1="1631.79" y1="1098.5" x2="1807.69" y2="1098.5" stroke="#7e2f8e" stroke-width="4.6"/>
</g>
<text transform="translate(1817.31,1118.8) scale(0.9500,1)" fill="#000" font-size="56" text-anchor="start" stroke="#fff" stroke-width="0.4">L at r = 66</text>
<g fill="none">
<line x1="1631.79" y1="1174" x2="1807.69" y2="1174" stroke="#7fd0f3" stroke-width="10.6"/>
<line x1="1631.79" y1="1174" x2="1807.69" y2="1174" stroke="#4dbeee" stroke-width="4.6"/>
</g>
<text transform="translate(1817.31,1194.3) scale(0.9500,1)" fill="#000" font-size="56" text-anchor="start" stroke="#fff" stroke-width="0.4">L at r = 89</text>
<g fill="none">
<line x1="1631.79" y1="1246.2" x2="1807.69" y2="1246.2" stroke="#bc5669" stroke-width="10.6"/>
<line x1="1631.79" y1="1246.2" x2="1807.69" y2="1246.2" stroke="#a2142f" stroke-width="4.6"/>
</g>
<text transform="translate(1817.31,1266.5) scale(0.9500,1)" fill="#000" font-size="56" text-anchor="start" stroke="#fff" stroke-width="0.4">L at r = 100</text>
<g fill="none">
<line x1="1631.79" y1="1321.4" x2="1807.69" y2="1321.4" stroke="#8ddf56" stroke-width="10.6"/>
<line x1="1631.79" y1="1321.4" x2="1807.69" y2="1321.4" stroke="#60d314" stroke-width="4.6"/>
</g>
<text transform="translate(1817.31,1341.7) scale(0.9500,1)" fill="#000" font-size="56" text-anchor="start" stroke="#fff" stroke-width="0.4">L at r = 124</text>
<g fill="none">
<line x1="1631.79" y1="1393.5" x2="1807.69" y2="1393.5" stroke="#636363" stroke-width="10.6"/>
<line x1="1631.79" y1="1393.5" x2="1807.69" y2="1393.5" stroke="#262626" stroke-width="4.6"/>
</g>
<text transform="translate(1817.31,1413.8) scale(0.9500,1)" fill="#000" font-size="56" text-anchor="start" stroke="#fff" stroke-width="0.4">L at r = 148</text>
<g fill="none" stroke-dasharray="31 25">
<line x1="1631.79" y1="1469.3" x2="1807.69" y2="1469.3" stroke="#f2c75e" stroke-width="10.6"/>
<line x1="1631.79" y1="1469.3" x2="1807.69" y2="1469.3" stroke="#edb120" stroke-width="4.6"/>
</g>
<text transform="translate(1817.31,1489.6) scale(0.9500,1)" fill="#000" font-size="56" text-anchor="start" stroke="#fff" stroke-width="0.4">0.0868*Time</text>
</g></g>
</svg></body></html>
